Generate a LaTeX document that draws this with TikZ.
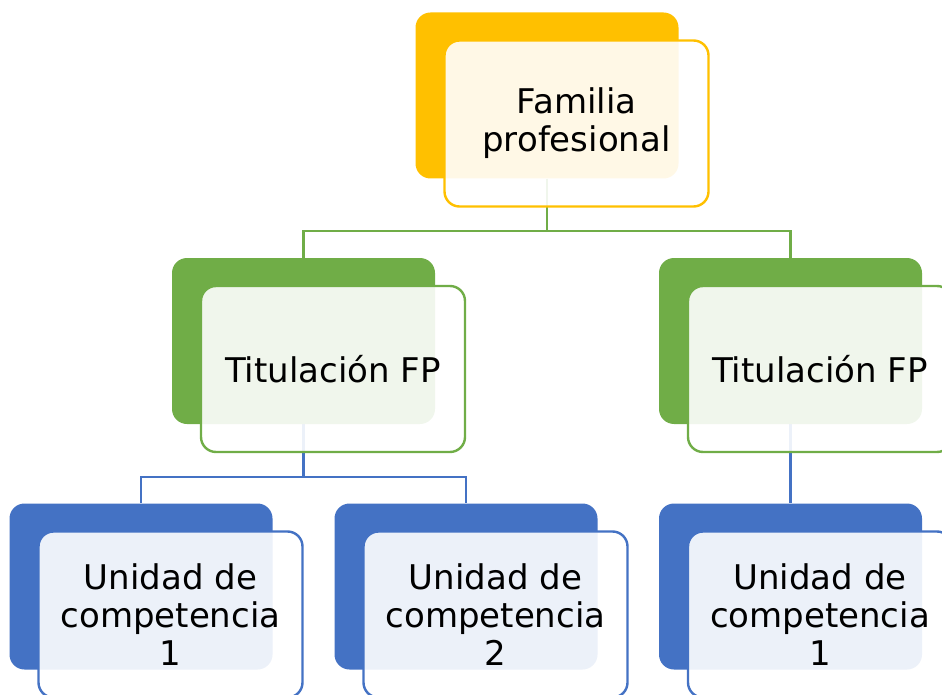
\documentclass[tikz,border=0pt]{standalone}
\usepackage{fontspec}
\setmainfont{DejaVu Sans}
\usetikzlibrary{backgrounds}
\definecolor{gold}{HTML}{FFC000}
\definecolor{leaf}{HTML}{70AD47}
\definecolor{sea}{HTML}{4472C4}

\begin{document}
\begin{tikzpicture}[x=1pt, y=-1pt,
    back/.style={fill=#1, rounded corners=15pt, minimum width=263pt, minimum height=166pt, inner sep=0pt},
    front/.style={draw=#1, line width=2.4pt, fill=white, fill opacity=0.9, text opacity=1,
      rounded corners=15pt, minimum width=264pt, minimum height=166pt, inner sep=0pt,
      align=center, font=\fontsize{34}{38}\selectfont},
    link/.style={draw=#1, line width=2.2pt}]
    \useasboundingbox (0,0) rectangle (942,695);
    \clip (0,0) rectangle (942,695);

    \node [back=gold] (fam)  at (547,95.5)   {};
    \node [back=leaf] (tit1) at (303.5,341)  {};
    \node [back=leaf] (tit2) at (790.5,341)  {};
    \node [back=sea]  (uc1)  at (141,586.5)  {};
    \node [back=sea]  (uc2)  at (466,586.5)  {};
    \node [back=sea]  (uc3)  at (790.5,586.5) {};

    \coordinate (busa) at (547,231);
    \coordinate (busb) at (303.5,477);
    \begin{pgfonlayer}{background}
      \draw [link=leaf] (fam.south) -- (busa) -| (tit1.north);
      \draw [link=leaf] (busa) -| (tit2.north);
      \draw [link=sea] (tit1.south) -- (busb) -| (uc1.north);
      \draw [link=sea] (busb) -| (uc2.north);
      \draw [link=sea] (tit2.south) -- (uc3.north);
    \end{pgfonlayer}

    \node [front=gold, xshift=29.5pt, yshift=-28pt] (famtxt)  at (fam)  {Familia\\profesional};
    \node [front=leaf, xshift=29.5pt, yshift=-28pt] (tit1txt) at (tit1) {Titulación FP};
    \node [front=leaf, xshift=29.5pt, yshift=-28pt] (tit2txt) at (tit2) {Titulación FP};
    \node [front=sea,  xshift=29.5pt, yshift=-28pt] (uc1txt)  at (uc1)  {Unidad de\\competencia\\1};
    \node [front=sea,  xshift=29.5pt, yshift=-28pt] (uc2txt)  at (uc2)  {Unidad de\\competencia\\2};
    \node [front=sea,  xshift=29.5pt, yshift=-28pt] (uc3txt)  at (uc3)  {Unidad de\\competencia\\1};
\end{tikzpicture}
\end{document}
